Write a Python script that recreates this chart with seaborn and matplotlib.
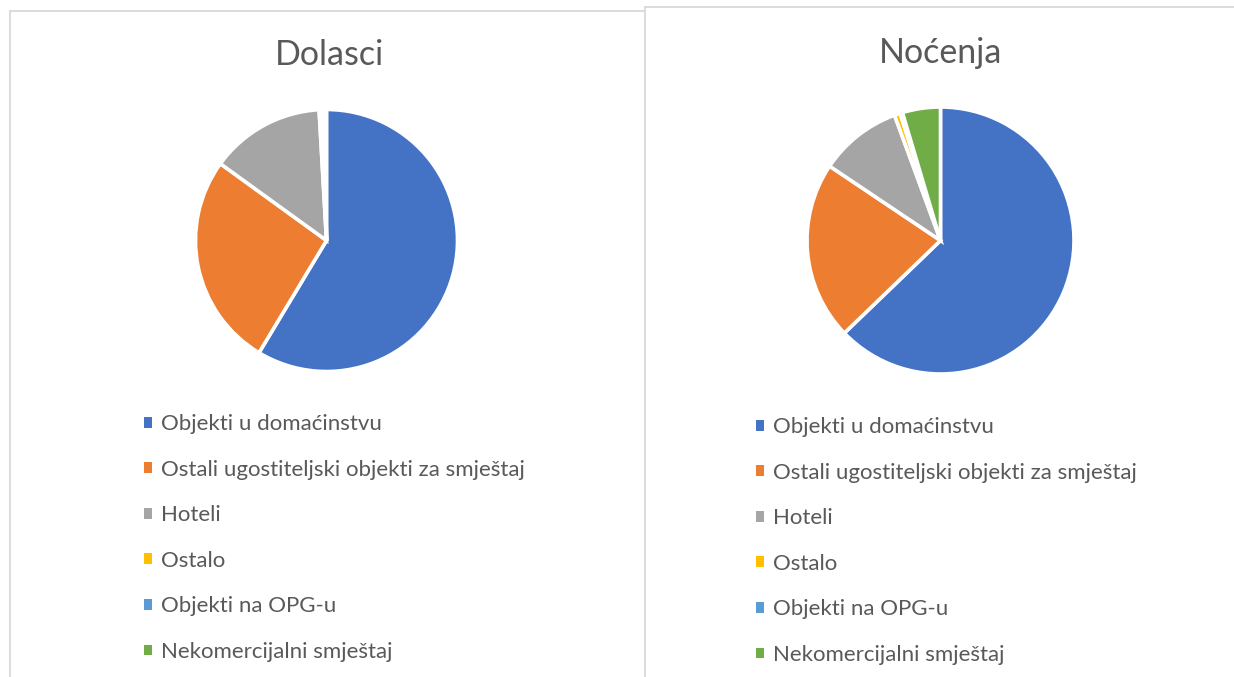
import matplotlib
matplotlib.use("Agg")
import matplotlib.pyplot as plt
import seaborn as sns
from matplotlib.patches import Patch
from matplotlib.lines import Line2D

categories = ["Objekti u domaćinstvu",
              "Ostali ugostiteljski objekti za smještaj",
              "Hoteli",
              "Ostalo",
              "Objekti na OPG-u",
              "Nekomercijalni smještaj"]
dolasci = [58.5, 26.3, 14.1, 0.4, 0.2, 0.3]
nocenja = [62.8, 21.6, 10.0, 0.7, 0.3, 4.6]
titles = ["Dolasci", "Noćenja"]

colors = ["#4472C4", "#ED7D31", "#A5A5A5", "#FFC000", "#5B9BD5", "#70AD47"]
text_color = "#595959"

sns.set_theme(style="white")
plt.rcParams["font.family"] = ["Lato", "DejaVu Sans"]

W, H = 1234, 677
fig = plt.figure(figsize=(W / 100, H / 100), dpi=100)
fig.patch.set_facecolor("white")

def fx(x):
    return x / W

def fy(y):
    return 1 - y / H

# panel borders
border = "#D9D9D9"
for (x0, y0, x1, y1) in [(9.5, 10.5, 645, 10.5), (9.5, 10.5, 9.5, 677),
                          (645, 6.5, 1234, 6.5), (645, 6.5, 645, 677)]:
    fig.add_artist(Line2D([fx(x0), fx(x1)], [fy(y0), fy(y1)],
                          transform=fig.transFigure, color=border, lw=1.3))

panels = [
    dict(data=dolasci, title=titles[0], cx=326.5, cy=240.5, r=131,
         tx=329, ty=55, lx=144, ly=538),
    dict(data=nocenja, title=titles[1], cx=940.5, cy=240.5, r=133.5,
         tx=941, ty=53, lx=756, ly=541),
]

handles = [Patch(facecolor=c, edgecolor="none") for c in colors]

for p in panels:
    r = p["r"]
    ax = fig.add_axes([fx(p["cx"] - r), fy(p["cy"] + r), 2 * r / W, 2 * r / H])
    ax.pie(p["data"], colors=colors, startangle=90, counterclock=False,
           wedgeprops=dict(edgecolor="white", linewidth=2.6))
    ax.set_xlim(-1.0, 1.0)
    ax.set_ylim(-1.0, 1.0)
    ax.set_aspect("equal")
    ax.axis("off")
    fig.text(fx(p["tx"]), fy(p["ty"]), p["title"], ha="center", va="center",
             fontsize=24.5, color=text_color)
    fig.legend(handles, categories, loc="center left",
               bbox_to_anchor=(fx(p["lx"]), fy(p["ly"])),
               bbox_transform=fig.transFigure, frameon=False,
               fontsize=16, labelcolor=text_color,
               handlelength=0.37, handleheight=0.37, handletextpad=0.38,
               labelspacing=1.15, borderpad=0, borderaxespad=0)

fig.savefig("out.png", dpi=100)
